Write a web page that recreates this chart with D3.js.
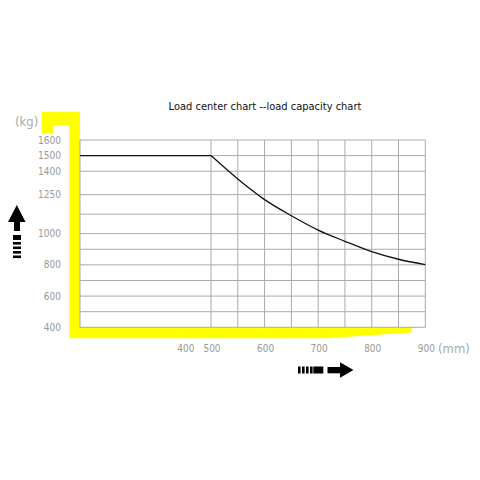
<!DOCTYPE html>
<html>
<head>
<meta charset="utf-8">
<script src="https://cdn.jsdelivr.net/npm/d3@7"></script>
<style>
  body { margin: 0; background: #fff; }
  svg { display: block; }
  .tick-label { font-family: "Liberation Sans Narrow", "DejaVu Sans Condensed", sans-serif; font-size: 10px; fill: #999; }
  .unit { font-family: "Liberation Sans Narrow", "DejaVu Sans Condensed", sans-serif; font-size: 13px; fill: #aaa; }
</style>
</head>
<body>
<svg width="480" height="480"></svg>
<script>
// load center (mm) and rated capacity (kg)
const loadCenters = [0, 500, 550, 600, 650, 700, 750, 800, 850, 900];
const capacities = [1500, 1500, 1350, 1218, 1115, 1023, 951, 885, 836, 802];

const xTickLabels = [400, 500, 600, 700, 800, 900];
const xGridValues = [500, 550, 600, 650, 700, 750, 800, 850, 900];
const yTickLabels = [1600, 1500, 1400, 1250, 1000, 800, 600, 400];
const yGridValues = [400, 500, 600, 700, 800, 900, 1000, 1125, 1250, 1400, 1500, 1600];

const svg = d3.select("svg");

// left part of the axis is squeezed, 500..900 is linear
const x = d3.scaleLinear().domain([0, 500, 900]).range([80, 211, 425.3]);
const y = d3.scaleLinear().domain([400, 1600]).range([327.3, 140]);

// yellow fork
svg.append("path")
    .attr("d", "M41.7,111.7 H80 V327.3 H411.7 V332.5 L326,338.3 H69.3 V125 H53.3 V133.3 H41.7 Z")
    .attr("fill", "#ffff00");

// grid
const grid = svg.append("g").attr("stroke", "#aaa").attr("stroke-width", 1);
grid.selectAll("line.h")
    .data(yGridValues)
    .enter()
    .append("line")
    .attr("class", "h")
    .attr("x1", x(0)).attr("x2", x(900))
    .attr("y1", d => y(d)).attr("y2", d => y(d));

grid.selectAll("line.v")
    .data(xGridValues)
    .enter()
    .append("line")
    .attr("class", "v")
    .attr("x1", d => x(d)).attr("x2", d => x(d))
    .attr("y1", y(1600)).attr("y2", y(400));

grid.append("line")
    .attr("x1", x(0)).attr("x2", x(0))
    .attr("y1", y(1600)).attr("y2", y(400));

// capacity: flat part straight, drop part smooth (sharp corner at 500)
const pts = loadCenters.map((c, i) => [c, capacities[i]]);
const flat = pts.filter(d => d[0] <= 500);
const drop = pts.filter(d => d[0] >= 500);

svg.append("path")
    .datum(flat)
    .attr("d", d3.line().x(d => x(d[0])).y(d => y(d[1])))
    .attr("fill", "none")
    .attr("stroke", "#111")
    .attr("stroke-width", 1.3);

svg.append("path")
    .datum(drop)
    .attr("d", d3.line().x(d => x(d[0])).y(d => y(d[1])).curve(d3.curveMonotoneX))
    .attr("fill", "none")
    .attr("stroke", "#111")
    .attr("stroke-width", 1.3);

// tick labels
svg.append("g").selectAll("text")
    .data(yTickLabels)
    .enter()
    .append("text")
    .attr("class", "tick-label")
    .attr("x", 61)
    .attr("y", d => y(d))
    .attr("dy", "0.35em")
    .attr("text-anchor", "end")
    .text(d => d);

svg.append("g").selectAll("text")
    .data(xTickLabels)
    .enter()
    .append("text")
    .attr("class", "tick-label")
    .attr("x", d => x(d) + 1)
    .attr("y", 348)
    .attr("dy", "0.35em")
    .attr("text-anchor", "middle")
    .text(d => d);

svg.append("text")
    .attr("class", "unit")
    .attr("x", 15)
    .attr("y", 121)
    .attr("dy", "0.35em")
    .text("(kg)");

svg.append("text")
    .attr("class", "unit")
    .attr("x", 438)
    .attr("y", 348)
    .attr("dy", "0.35em")
    .text("(mm)");

// title
svg.append("text")
    .attr("x", 265)
    .attr("y", 110)
    .attr("text-anchor", "middle")
    .style("font-family", "DejaVu Sans Condensed, sans-serif")
    .style("font-size", "11px")
    .attr("fill", "#111")
    .text("Load center chart --load capacity chart");

// arrows
const arrows = svg.append("g").attr("fill", "#000");
// up arrow
arrows.append("path").attr("d", "M8,222 L16.8,205 L25.5,222 Z");
arrows.append("rect").attr("x", 14).attr("y", 221).attr("width", 6).attr("height", 10);
arrows.append("rect").attr("x", 13).attr("y", 235).attr("width", 8).attr("height", 5);
[242, 246.5, 251, 255.5].forEach(v => {
    arrows.append("rect").attr("x", 13).attr("y", v).attr("width", 8).attr("height", 2.6);
});
// right arrow
arrows.append("path").attr("d", "M340,362.3 L353.5,370 L340,377.7 Z");
arrows.append("rect").attr("x", 327.5).attr("y", 367).attr("width", 13).attr("height", 6.3);
arrows.append("rect").attr("x", 313.3).attr("y", 366.5).attr("width", 10).attr("height", 7);
[298, 302, 306, 310].forEach(v => {
    arrows.append("rect").attr("x", v).attr("y", 366.5).attr("width", 2.6).attr("height", 7);
});
</script>
</body>
</html>
